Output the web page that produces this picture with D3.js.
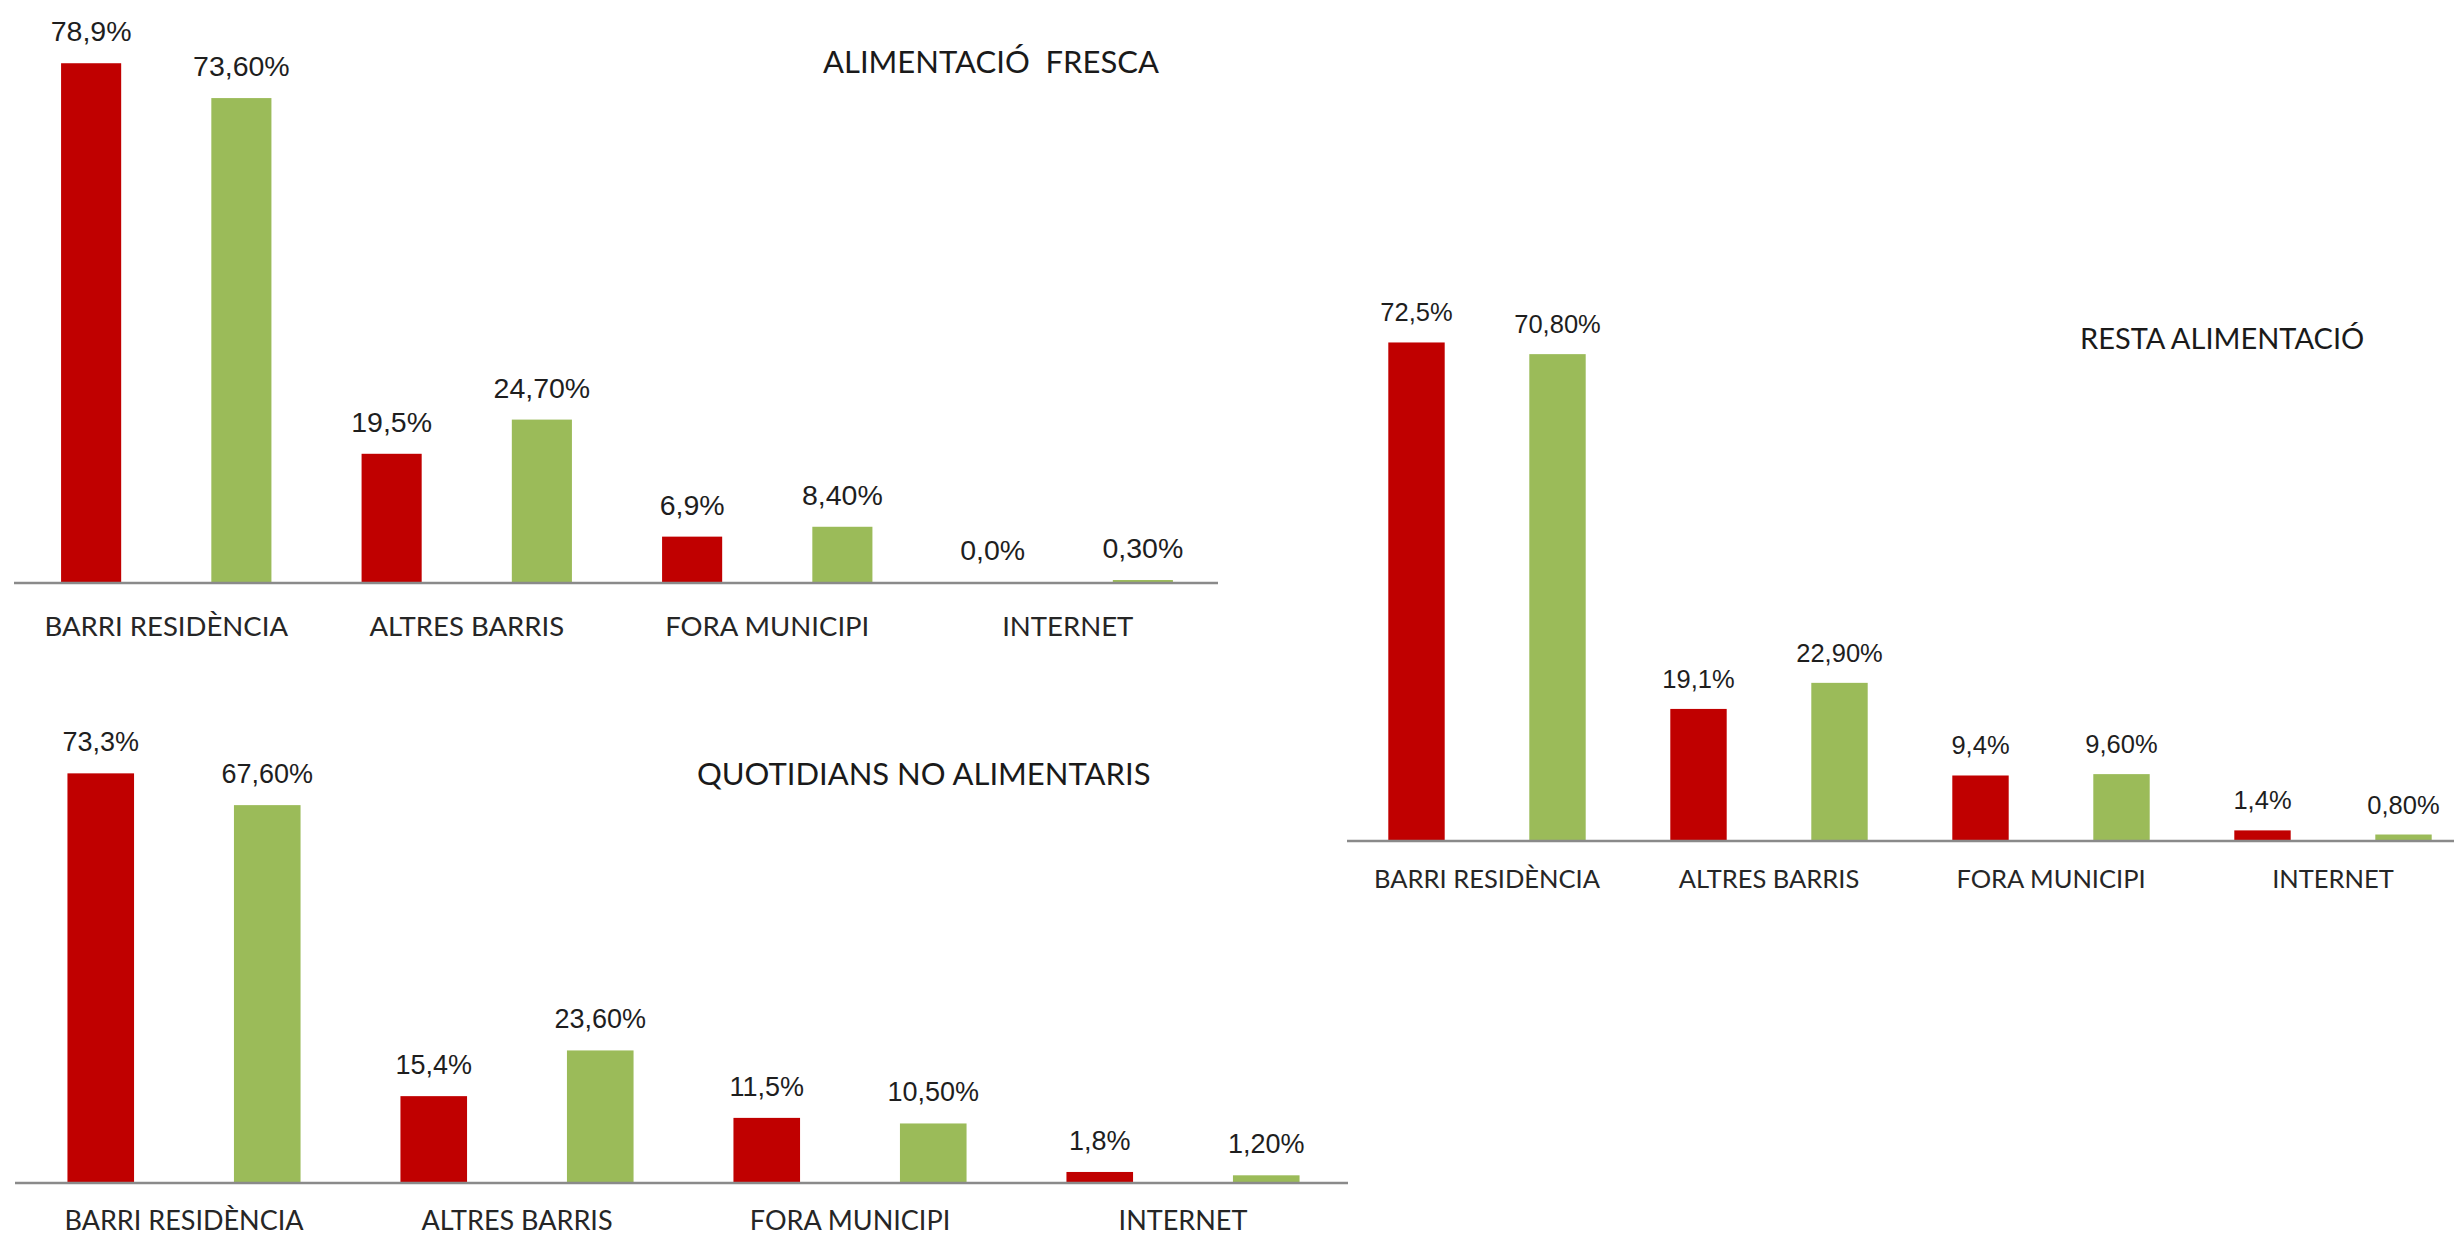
<!DOCTYPE html>
<html>
<head>
<meta charset="utf-8">
<script src="https://cdn.jsdelivr.net/npm/d3@7"></script>
<style>
  html, body { margin: 0; padding: 0; background: #ffffff; }
  svg { display: block; }
</style>
</head>
<body>
<svg id="chart" width="2454" height="1238"></svg>
<script>
// ---- DATA ----
const categories = ["BARRI RESIDÈNCIA", "ALTRES BARRIS", "FORA MUNICIPI", "INTERNET"];
const seriesKeys = ["a", "b"];

const titleFresca = "ALIMENTACIÓ  FRESCA";
const frescaRed   = [78.9, 19.5, 6.9, 0.0];
const frescaGreen = [73.6, 24.7, 8.4, 0.3];

const titleQuotidians = "QUOTIDIANS NO ALIMENTARIS";
const quotidiansRed   = [73.3, 15.4, 11.5, 1.8];
const quotidiansGreen = [67.6, 23.6, 10.5, 1.2];

const titleResta = "RESTA ALIMENTACIÓ";
const restaRed   = [72.5, 19.1, 9.4, 1.4];
const restaGreen = [70.8, 22.9, 9.6, 0.8];

const yMax = 80;

// ---- STYLE / LAYOUT ----
const colors = { a: "#C00000", b: "#9BBB59" };
const locale = d3.formatLocale({ decimal: ",", thousands: ".", grouping: [3], currency: ["", "€"] });
const fmt = { a: locale.format(".1f"), b: locale.format(".2f") };

const layouts = [
  { title: titleFresca, red: frescaRed, green: frescaGreen,
    x0: 16, x1: 1218, axisY: 582, topY: 56, axisFrom: 14, axisTo: 1218,
    valueSize: 28.5, catSize: 27.5, catBase: 636, labelGap: 22,
    titleX: 823, titleBase: 73, titleSize: 31 },
  { title: titleQuotidians, red: quotidiansRed, green: quotidiansGreen,
    x0: 17.5, x1: 1349.5, axisY: 1182, topY: 736, axisFrom: 15, axisTo: 1348,
    valueSize: 27, catSize: 27, catBase: 1230, labelGap: 22,
    titleX: 697, titleBase: 785, titleSize: 31 },
  { title: titleResta, red: restaRed, green: restaGreen,
    x0: 1346, x1: 2474, axisY: 840, topY: 291, axisFrom: 1347, axisTo: 2454,
    valueSize: 25.5, catSize: 25.5, catBase: 888, labelGap: 21,
    titleX: 2080, titleBase: 349, titleSize: 29 }
];

const svg = d3.select("#chart");
svg.append("rect").attr("width", 2454).attr("height", 1238).attr("fill", "#ffffff");

layouts.forEach(L => {
  const g = svg.append("g");
  const data = categories.map((c, i) => ({ cat: c, a: L.red[i], b: L.green[i] }));

  const x = d3.scaleBand().domain(categories).range([L.x0, L.x1]).padding(0);
  const xs = d3.scaleBand().domain(seriesKeys).range([0, x.bandwidth()])
    .paddingInner(0.6).paddingOuter(0.3);
  const y = d3.scaleLinear().domain([0, yMax]).range([L.axisY, L.topY]);

  const groups = g.selectAll("g.cat").data(data).join("g")
    .attr("class", "cat")
    .attr("transform", d => `translate(${x(d.cat)},0)`);

  const items = d => seriesKeys.map(k => ({ key: k, value: d[k] }));

  groups.selectAll("rect").data(items).join("rect")
    .attr("x", d => xs(d.key))
    .attr("width", xs.bandwidth())
    .attr("y", d => y(d.value))
    .attr("height", d => L.axisY - y(d.value))
    .attr("fill", d => colors[d.key]);

  groups.selectAll("text.val").data(items).join("text")
    .attr("class", "val")
    .attr("x", d => xs(d.key) + xs.bandwidth() / 2)
    .attr("y", d => y(d.value) - L.labelGap)
    .attr("text-anchor", "middle")
    .attr("font-family", "'Liberation Sans', Arial, sans-serif")
    .attr("font-size", L.valueSize)
    .attr("fill", "#1e1e1e")
    .text(d => fmt[d.key](d.value) + "%");

  // category axis
  const axis = d3.axisBottom(x).tickSize(0).tickPadding(0);
  const ax = g.append("g").attr("transform", `translate(0,${L.axisY})`).call(axis);
  ax.select(".domain").remove();
  ax.selectAll(".tick text")
    .attr("y", L.catBase - L.axisY)
    .attr("dy", 0)
    .attr("font-family", "Lato, 'Liberation Sans', sans-serif")
    .attr("font-size", L.catSize)
    .attr("fill", "#262626");

  g.append("line")
    .attr("x1", L.axisFrom).attr("x2", L.axisTo)
    .attr("y1", L.axisY + 1).attr("y2", L.axisY + 1)
    .attr("stroke", "#8a8a8a").attr("stroke-width", 2.5);

  g.append("text")
    .attr("x", L.titleX).attr("y", L.titleBase)
    .attr("font-family", "Lato, 'Liberation Sans', sans-serif")
    .attr("font-size", L.titleSize)
    .attr("fill", "#1a1a1a")
    .style("white-space", "pre")
    .text(L.title);
});
</script>
</body>
</html>
